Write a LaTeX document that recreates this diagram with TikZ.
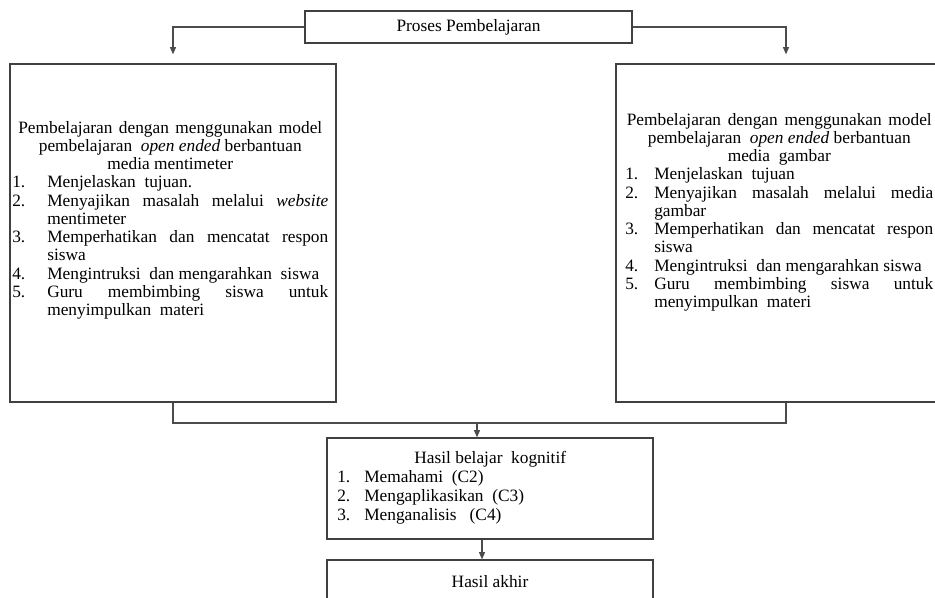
\documentclass[tikz,border=0pt]{standalone}
\usepackage{fontspec}
\setmainfont{Liberation Serif}
\usetikzlibrary{arrows.meta}
% helpers for manually broken lines
\newcommand{\ctr}[1]{\noindent\makebox[\linewidth][c]{#1}\par}
\newcommand{\itJ}[3]{\noindent\makebox[#1][l]{#2}\makebox[\dimexpr\linewidth-#1\relax][s]{#3}\par}
\newcommand{\itN}[3]{\noindent\makebox[#1][l]{#2}#3\par}
\newcommand{\itC}[2]{\noindent\hspace*{#1}#2\par}
\begin{document}
\begin{tikzpicture}[x=0.75pt,y=-0.75pt,
  box/.style={draw=black!75, line width=0.9pt, inner sep=0pt, rectangle},
  conn/.style={draw=black!70, line width=0.9pt},
  arr/.style={conn, -{Triangle[length=5.5pt,width=4.5pt]}},
  txt/.style={inner sep=0pt, anchor=base west}]
\useasboundingbox (0,0) rectangle (935,597);
\clip (0,0) rectangle (935,597);
\fill[white] (0,0) rectangle (935,597);

% boxes
\node[box, minimum width=245.25pt, minimum height=24pt,
      font=\fontsize{13pt}{13.7pt}\selectfont] (proses) at (468.5,27) {Proses Pembelajaran};
\node[box, minimum width=244.5pt, minimum height=253.5pt] (kiri) at (173,233) {};
\node[box, minimum width=255pt, minimum height=253.5pt] (kanan) at (786,233) {};
\node[box, minimum width=244.5pt, minimum height=75.75pt] (hasil) at (490,488.5) {};
\node[box, minimum width=244.5pt, minimum height=52.5pt] (akhir) at (490,595) {};

% texts
\node[txt] (tkiri) at (12,133) {\parbox[t]{237pt}{\fontsize{13pt}{13.7pt}\selectfont
  \ctr{\makebox[228pt][s]{Pembelajaran dengan menggunakan model}}
  \ctr{pembelajaran\ \ \textit{open ended} berbantuan}
  \ctr{media mentimeter}
  \itN{26.25pt}{1.}{Menjelaskan\ \ tujuan.}
  \itJ{26.25pt}{2.}{Menyajikan masalah melalui \textit{website}}
  \itC{26.25pt}{mentimeter}
  \itJ{26.25pt}{3.}{Memperhatikan dan mencatat respon}
  \itC{26.25pt}{siswa}
  \itN{26.25pt}{4.}{Mengintruksi\ \ dan mengarahkan\ \ siswa}
  \itJ{26.25pt}{5.}{Guru membimbing siswa untuk}
  \itC{26.25pt}{menyimpulkan\ \ materi}}};

\node[txt] (tkanan) at (625,125) {\parbox[t]{231pt}{\fontsize{13pt}{13.7pt}\selectfont
  \ctr{\makebox[228.75pt][s]{Pembelajaran dengan menggunakan model}}
  \ctr{pembelajaran\ \ \textit{open ended} berbantuan}
  \ctr{media\ \ gambar}
  \itN{21.75pt}{1.}{Menjelaskan\ \ tujuan}
  \itJ{21.75pt}{2.}{Menyajikan masalah melalui media}
  \itC{21.75pt}{gambar}
  \itJ{21.75pt}{3.}{Memperhatikan dan mencatat respon}
  \itC{21.75pt}{siswa}
  \itN{21.75pt}{4.}{Mengintruksi\ \ dan mengarahkan siswa}
  \itJ{21.75pt}{5.}{Guru membimbing siswa untuk}
  \itC{21.75pt}{menyimpulkan\ \ materi}}};

\node[txt] (thasil) at (337,463) {\parbox[t]{229.5pt}{\fontsize{13pt}{14.25pt}\selectfont
  \ctr{Hasil belajar\ \ kognitif}
  \itN{20.25pt}{1.}{Memahami\ \ (C2)}
  \itN{20.25pt}{2.}{Mengaplikasikan\ \ (C3)}
  \itN{20.25pt}{3.}{Menganalisis\ \ \ (C4)}}};

\node[inner sep=0pt, anchor=base, font=\fontsize{13pt}{13.7pt}\selectfont] (takhir) at (490,587) {Hasil akhir};

% connectors
\draw[arr, shorten >=6.75pt] (proses.west) -| (kiri.north);
\draw[arr, shorten >=6.75pt] (proses.east) -| (kanan.north);
\coordinate (j) at (477,423);
\draw[conn] (kiri.south) -- (kiri.south |- j) -- (kanan.south |- j) -- (kanan.south);
\draw[arr] (j) -- (j |- hasil.north);
\coordinate (k) at (482,539);
\draw[arr] (k |- hasil.south) -- (k |- akhir.north);
\end{tikzpicture}
\end{document}
